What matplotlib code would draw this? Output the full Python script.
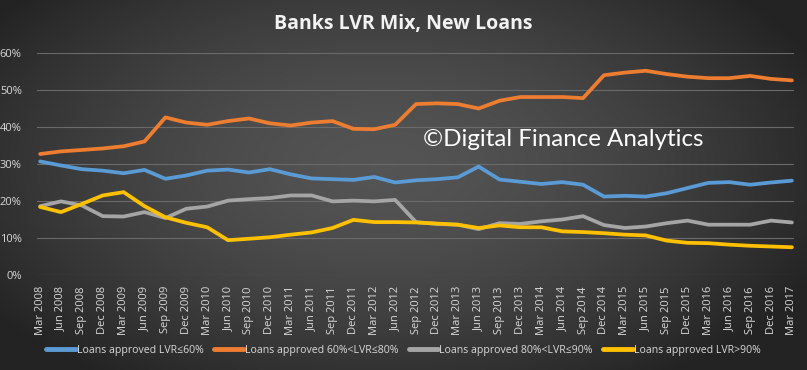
import matplotlib
matplotlib.use("Agg")
import matplotlib.pyplot as plt
import numpy as np

quarters = [f"{m} {y}" for y in range(2008, 2018) for m in ("Mar", "Jun", "Sep", "Dec")][:37]

lvr_60 = [30.7, 29.6, 28.6, 28.2, 27.5, 28.4, 26.0, 26.9, 28.2, 28.5,
          27.7, 28.6, 27.2, 26.1, 25.9, 25.7, 26.5, 25.0, 25.6, 25.9,
          26.4, 29.3, 25.8, 25.2, 24.6, 25.1, 24.4, 21.2, 21.4, 21.2,
          22.1, 23.5, 24.9, 25.1, 24.4, 25.0, 25.5]
lvr_60_80 = [32.7, 33.4, 33.8, 34.2, 34.8, 36.1, 42.6, 41.2, 40.6, 41.6,
             42.3, 41.0, 40.4, 41.2, 41.6, 39.5, 39.4, 40.6, 46.2, 46.4,
             46.2, 45.0, 47.1, 48.1, 48.1, 48.1, 47.8, 54.0, 54.7, 55.2,
             54.3, 53.6, 53.2, 53.2, 53.8, 53.0, 52.6]
lvr_80_90 = [18.6, 19.9, 18.8, 15.9, 15.8, 17.0, 15.4, 17.9, 18.5, 20.1,
             20.5, 20.8, 21.5, 21.5, 19.9, 20.1, 19.9, 20.3, 14.3, 13.8,
             13.6, 12.4, 14.0, 13.8, 14.5, 15.0, 15.9, 13.5, 12.7, 13.1,
             14.0, 14.7, 13.6, 13.6, 13.6, 14.7, 14.2]
lvr_90 = [18.4, 17.0, 19.2, 21.5, 22.4, 18.6, 15.6, 14.1, 12.9, 9.4,
          9.8, 10.2, 10.9, 11.5, 12.7, 14.9, 14.3, 14.3, 14.2, 13.9,
          13.6, 12.7, 13.4, 12.9, 12.9, 11.8, 11.6, 11.3, 10.9, 10.7,
          9.3, 8.7, 8.6, 8.2, 7.9, 7.7, 7.5]

series = [
    ("Loans approved LVR≤60%", lvr_60, "#5B9BD5"),
    ("Loans approved 60%<LVR≤80%", lvr_60_80, "#ED7D31"),
    ("Loans approved 80%<LVR≤90%", lvr_80_90, "#A5A5A5"),
    ("Loans approved LVR>90%", lvr_90, "#FFC000"),
]

FONT = ["Open Sans", "DejaVu Sans"]
plt.rcParams["font.family"] = FONT
TXT = "#d9d9d9"

fig = plt.figure(figsize=(8.07, 3.70), dpi=100)

# radial dark-gray background
bg = fig.add_axes([0, 0, 1, 1], zorder=0)
gx, gy = np.meshgrid(np.linspace(-1, 1, 400), np.linspace(-1, 1, 200))
r = np.sqrt(((gx + 0.05) / 1.1) ** 2 + ((gy + 0.1) / 1.3) ** 2)
shade = np.clip(0.33 - 0.17 * r ** 1.6, 0.14, 0.34)
bg.imshow(np.dstack([shade] * 3), aspect="auto", extent=[0, 1, 0, 1])
bg.axis("off")

ax = fig.add_axes([37 / 807, 1 - 275 / 370, 757 / 807, 222 / 370], zorder=1)
ax.patch.set_alpha(0)

x = np.arange(len(quarters))
for label, vals, color in series:
    ax.plot(x, np.array(vals) / 100, color=color, lw=2.7, label=label,
            solid_joinstyle="round", solid_capstyle="round")

ax.set_ylim(0, 0.6)
ax.set_xlim(-0.15, 36.1)
ax.set_yticks(np.arange(0, 0.61, 0.1))
ax.set_yticklabels([f"{int(round(v * 100))}%" for v in np.arange(0, 0.61, 0.1)])
ax.set_xticks(x)
ax.set_xticklabels(quarters, rotation=90)
ax.tick_params(axis="both", length=0, colors=TXT, labelsize=8)
ax.tick_params(axis="y", pad=11)
ax.tick_params(axis="x", pad=8)
ax.grid(axis="y", color="#6a6a6a", lw=0.8)
for s in ax.spines.values():
    s.set_visible(False)

fig.text(0.5, 1 - 24 / 370, "Banks LVR Mix, New Loans", ha="center", va="center",
         color="#f2f2f2", fontsize=14, fontweight="bold", family=FONT)
fig.text(423 / 807, 1 - 140 / 370, "©Digital Finance Analytics", ha="left", va="center",
         color="white", fontsize=17.4, family=["Lato", "DejaVu Sans"])

leg = fig.legend(loc="center", bbox_to_anchor=(0.5, 1 - 350 / 370), ncol=4, frameon=False,
                 fontsize=7.6, labelcolor=TXT, handlelength=2.8, handletextpad=0.1,
                 columnspacing=1.0)
for h in leg.get_lines():
    h.set_linewidth(3.5)

fig.savefig("out.png", dpi=100)
